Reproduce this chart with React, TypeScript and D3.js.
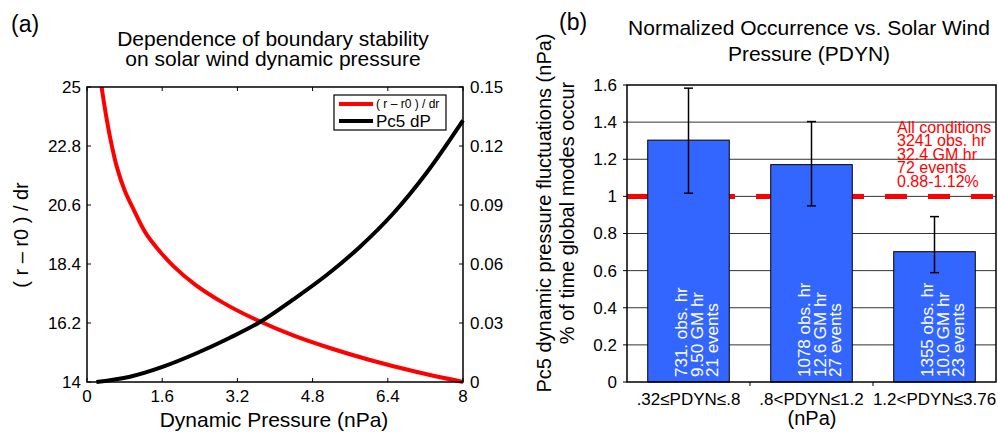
import React from "react";
import * as d3 from "d3";

// ---------- Panel (a) data ----------
const redX = [0.31, 0.4, 0.5, 0.63, 0.8, 1.0, 1.25, 1.5, 1.85, 2.3, 2.9, 3.6, 4.4, 5.2, 6.0, 7.0, 8.0];
const redY = [25.0, 24.0, 23.05, 22.05, 21.15, 20.4, 19.55, 18.97, 18.3, 17.63, 16.95, 16.32, 15.73, 15.25, 14.83, 14.38, 14.0];
const blackX = [0.2, 0.915, 1.62, 2.33, 3.04, 3.68, 4.39, 5.1, 5.81, 6.52, 7.23, 8.0];
const blackY = [0, 0.0027, 0.0078, 0.0146, 0.0225, 0.0305, 0.042, 0.0544, 0.0688, 0.0858, 0.1065, 0.133];
const aXTicks = [0, 1.6, 3.2, 4.8, 6.4, 8];
const aYLTicks = [14, 16.2, 18.4, 20.6, 22.8, 25];
const aYRTicks = [0, 0.03, 0.06, 0.09, 0.12, 0.15];
const aTitle = ["Dependence of boundary stability", "on solar wind dynamic pressure"];
const aLegend = ["( r – r0 ) / dr", "Pc5 dP"];

// ---------- Panel (b) data ----------
const categories = [".32≤PDYN≤.8", ".8<PDYN≤1.2", "1.2<PDYN≤3.76"];
const barValues = [1.303, 1.171, 0.702];
const errLow = [1.017, 0.949, 0.589];
const errHigh = [1.583, 1.403, 0.891];
const barTexts = [
  ["731. obs. hr", "9.50 GM hr", "21 events"],
  ["1078 obs. hr", "12.6 GM hr", "27 events"],
  ["1355 obs. hr", "10.0 GM hr", "23 events"],
];
const allConditions = ["All conditions", "3241 obs. hr", "32.4 GM hr", "72 events", "0.88-1.12%"];
const refLevel = 1.0;
const bYTicks = [0, 0.2, 0.4, 0.6, 0.8, 1.0, 1.2, 1.4, 1.6];
const bTitle = ["Normalized Occurrence vs. Solar Wind", "Pressure (PDYN)"];
const bYLabel = ["Pc5 dynamic pressure fluctuations (nPa)", "% of time global modes occur"];

const FONT = "'Liberation Sans', Arial, Helvetica, sans-serif";

export default function App() {
  // panel a scales
  const ax = d3.scaleLinear().domain([0, 8]).range([87, 463]);
  const ayL = d3.scaleLinear().domain([14, 25]).range([382, 87]);
  const ayR = d3.scaleLinear().domain([0, 0.15]).range([382, 87]);
  const redLine = d3
    .line<number>()
    .x((_, i) => ax(redX[i]))
    .y((d) => ayL(d))
    .curve(d3.curveCatmullRom.alpha(0.5));
  const blackLine = d3
    .line<number>()
    .x((_, i) => ax(blackX[i]))
    .y((d) => ayR(d))
    .curve(d3.curveCatmullRom.alpha(0.5));

  // panel b scales
  const bx = d3.scaleBand<string>().domain(categories).range([627, 996]).paddingInner(0.337).paddingOuter(0.1685);
  const by = d3.scaleLinear().domain([0, 1.6]).range([382, 85]);
  const step = bx.step();
  const boundaries = [1, 2].map((i) => 627 + step * i);
  const fmtA = (v: number) => String(+v.toFixed(2));
  const tk = 4;

  return (
    <svg width={998} height={432} style={{ position: "absolute", left: 0, top: 0, background: "#fff" }} fontFamily={FONT}>
      {/* ===== Panel (a) ===== */}
      <text x={11} y={32} fontSize={23}>(a)</text>
      {aTitle.map((t, i) => (
        <text key={i} x={273} y={46 + i * 20} fontSize={21} textAnchor="middle">{t}</text>
      ))}
      <path d={redLine(redY) || ""} fill="none" stroke="#ff0000" strokeWidth={4} />
      <path d={blackLine(blackY) || ""} fill="none" stroke="#000" strokeWidth={4} />
      {/* box */}
      <rect x={87} y={87} width={376} height={295} fill="none" stroke="#000" strokeWidth={1.5} />
      {aXTicks.map((v, i) => (
        <g key={i}>
          <line x1={ax(v)} x2={ax(v)} y1={382} y2={382 - tk} stroke="#000" />
          <line x1={ax(v)} x2={ax(v)} y1={87} y2={87 + tk} stroke="#000" />
          <text x={ax(v)} y={402} fontSize={17} textAnchor="middle">{v}</text>
        </g>
      ))}
      {aYLTicks.map((v, i) => (
        <g key={i}>
          <line x1={87} x2={87 + tk} y1={ayL(v)} y2={ayL(v)} stroke="#000" />
          <text x={81} y={ayL(v)} dy="0.35em" fontSize={17} textAnchor="end">{v}</text>
        </g>
      ))}
      {aYRTicks.map((v, i) => (
        <g key={i}>
          <line x1={463} x2={463 - tk} y1={ayR(v)} y2={ayR(v)} stroke="#000" />
          <text x={470} y={ayR(v)} dy="0.35em" fontSize={17} textAnchor="start">{fmtA(v)}</text>
        </g>
      ))}
      <text x={274} y={427} fontSize={21} textAnchor="middle">Dynamic Pressure (nPa)</text>
      <text transform={`translate(21,235) rotate(-90)`} fontSize={20} textAnchor="middle" dominantBaseline="central">
        ( r – r0 ) / dr
      </text>
      {/* legend */}
      <rect x={334} y={95} width={112} height={35} fill="#fff" stroke="#000" strokeWidth={1.2} />
      <line x1={339} x2={373} y1={104} y2={104} stroke="#ff0000" strokeWidth={4} />
      <text x={376} y={104} dy="0.35em" fontSize={12}>{aLegend[0]}</text>
      <line x1={339} x2={373} y1={121} y2={121} stroke="#000" strokeWidth={4} />
      <text x={376} y={121} dy="0.35em" fontSize={17}>{aLegend[1]}</text>

      {/* ===== Panel (b) ===== */}
      <text x={559} y={30} fontSize={23}>(b)</text>
      {bTitle.map((t, i) => (
        <text key={i} x={809} y={34.5 + i * 26.5} fontSize={21} textAnchor="middle">{t}</text>
      ))}
      {/* gridlines */}
      {bYTicks.filter((v) => v > 0 && v < 1.6).map((v, i) => (
        <line key={i} x1={627} x2={996} y1={by(v)} y2={by(v)} stroke="#333" strokeWidth={1} />
      ))}
      {/* reference line */}
      <line x1={627} x2={996} y1={by(refLevel)} y2={by(refLevel)} stroke="#ff0000" strokeWidth={5} strokeDasharray="22 21" />
      {/* bars */}
      {categories.map((c, i) => (
        <rect key={c} x={bx(c)} y={by(barValues[i])} width={bx.bandwidth()} height={by(0) - by(barValues[i])}
          fill="#3366ff" stroke="#000" strokeWidth={1} />
      ))}
      {/* bar texts */}
      {categories.map((c, i) => {
        const cx = (bx(c) as number) + bx.bandwidth() / 2;
        return barTexts[i].map((t, j) => {
          const x = cx - 6.8 + j * 15.6;
          return (
            <text key={c + j} transform={`translate(${x},377) rotate(-90)`} fontSize={17} fill="#fff" dominantBaseline="central">
              {t}
            </text>
          );
        });
      })}
      {/* error bars */}
      {categories.map((c, i) => {
        const cx = (bx(c) as number) + bx.bandwidth() / 2;
        return (
          <g key={c} stroke="#000" strokeWidth={1.5}>
            <line x1={cx} x2={cx} y1={by(errLow[i])} y2={by(errHigh[i])} />
            <line x1={cx - 4.5} x2={cx + 4.5} y1={by(errLow[i])} y2={by(errLow[i])} />
            <line x1={cx - 4.5} x2={cx + 4.5} y1={by(errHigh[i])} y2={by(errHigh[i])} />
          </g>
        );
      })}
      {/* annotation */}
      {allConditions.map((t, i) => (
        <text key={i} x={897} y={132.5 + i * 13.6} fontSize={16} fill="#ff0000">{t}</text>
      ))}
      {/* axes box */}
      <rect x={627} y={85} width={369} height={297} fill="none" stroke="#000" strokeWidth={1.5} />
      {bYTicks.map((v, i) => (
        <g key={i}>
          <line x1={627} x2={627 - tk} y1={by(v)} y2={by(v)} stroke="#000" />
          <text x={617} y={by(v)} dy="0.35em" fontSize={17} textAnchor="end">{String(+v.toFixed(1))}</text>
        </g>
      ))}
      {boundaries.map((b, i) => (
        <line key={i} x1={b} x2={b} y1={382} y2={382 + tk} stroke="#000" />
      ))}
      {categories.map((c) => (
        <text key={c} x={(bx(c) as number) + bx.bandwidth() / 2} y={405} fontSize={17} textAnchor="middle">{c}</text>
      ))}
      <text x={812} y={425} fontSize={20} textAnchor="middle">(nPa)</text>
      {bYLabel.map((t, i) => (
        <text key={i} transform={`translate(${544 + i * 23},213) rotate(-90)`} fontSize={20} textAnchor="middle" dominantBaseline="central">
          {t}
        </text>
      ))}
    </svg>
  );
}
